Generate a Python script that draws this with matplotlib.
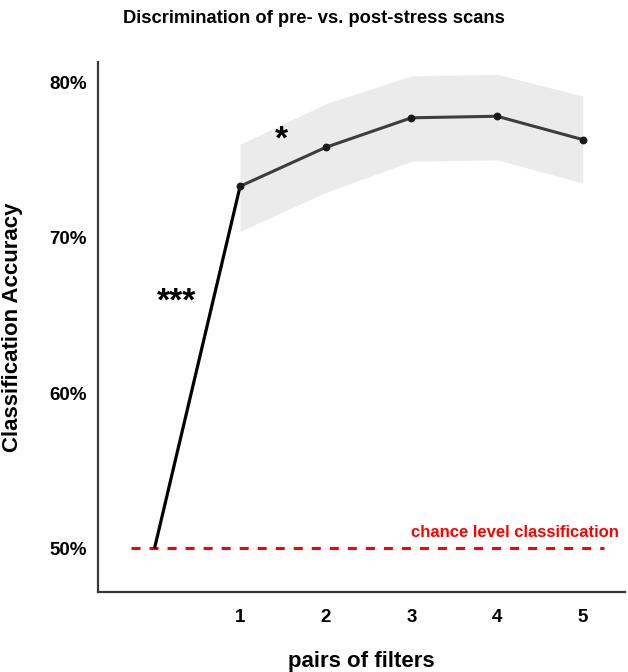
"""Classification accuracy vs. number of CSP filter pairs."""
import matplotlib
matplotlib.use('Agg')
import matplotlib.pyplot as plt
from matplotlib.ticker import FuncFormatter

plt.rcParams['font.family']=['Liberation Sans','DejaVu Sans']
plt.rcParams['font.weight']='bold'

# data
pairs=[1,2,3,4,5]
accuracy=[73.3,75.8,77.7,77.8,76.3]
ci_low=[70.4,72.9,74.9,75.0,73.5]
ci_high=[76.0,78.6,80.4,80.5,79.1]
chance=50.0
start_x=0
sig_labels=['***','*']
sig_x=[0.26,1.48]
sig_y=[65.85,76.3]

fig=plt.figure(figsize=(6.28,6.72),dpi=100)
ax=fig.add_axes([0.156,0.119,0.84,0.789])

ax.fill_between(pairs,ci_low,ci_high,color='#ebebeb',lw=0,zorder=1)
ax.plot([start_x,pairs[0]],[chance,accuracy[0]],color='black',lw=2.3,zorder=3,solid_capstyle='butt')
ax.plot(pairs,accuracy,color='#3d3d3d',lw=2.2,zorder=3)
ax.scatter(pairs,accuracy,s=32,color='#1a1a1a',zorder=4,lw=0)
ax.plot([-0.28,5.25],[chance,chance],color='#ff0000',lw=2.2,ls=(0,(2.95,2.95)),zorder=2)
ax.text(5.42,chance+1.0,'chance level classification',color='#ff0000',fontsize=12,
        fontweight='bold',ha='right',va='center')
for lab,x,y in zip(sig_labels,sig_x,sig_y):
    ax.text(x,y,lab,fontsize=24,fontweight='bold',ha='center',va='center')

ax.set_xlim(-0.66,5.5)
ax.set_ylim(47.2,81.3)
ax.set_xticks(pairs)
ax.set_yticks([50,60,70,80])
ax.yaxis.set_major_formatter(FuncFormatter(lambda v,p:f'{v:.0f}%'))
ax.tick_params(length=0,labelsize=13.5,pad=8)
ax.tick_params(axis='x',pad=12)
for lab in ax.get_xticklabels()+ax.get_yticklabels():lab.set_fontweight('bold')
for s in ['top','right']:ax.spines[s].set_visible(False)
for s in ['left','bottom']:
    ax.spines[s].set_color('#383838');ax.spines[s].set_linewidth(1.6)

ax.set_xlabel('pairs of filters',fontsize=16,fontweight='bold',labelpad=18)
ax.set_ylabel('Classification Accuracy',fontsize=16,fontweight='bold',labelpad=19)
fig.suptitle('Discrimination of pre- vs. post-stress scans',fontsize=13.2,fontweight='bold',x=0.5,y=0.985)

fig.savefig('out.png',dpi=100)
